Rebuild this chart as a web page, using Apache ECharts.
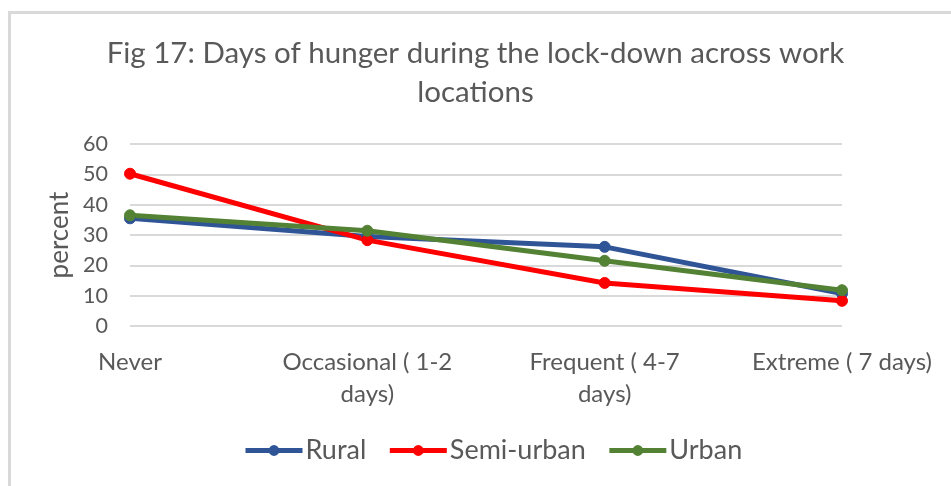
<!DOCTYPE html>
<html>
<head>
<meta charset="utf-8">
<script src="https://cdn.jsdelivr.net/npm/echarts@6/dist/echarts.min.js"></script>
<style>
html,body{margin:0;padding:0;background:#fff;}
#chart{width:951px;height:486px;}
</style>
</head>
<body>
<div id="chart"></div>
<script>
var titleText = 'Fig 17: Days of hunger during the lock-down across work\nlocations';
var categories = ['Never', 'Occasional ( 1-2\ndays)', 'Frequent ( 4-7\ndays)', 'Extreme ( 7 days)'];
var rural = [35.5, 29.5, 26.1, 10.7];
var semiUrban = [50.2, 28.3, 14.2, 8.3];
var urban = [36.5, 31.4, 21.5, 11.8];
var yTicks = [0, 10, 20, 30, 40, 50, 60];

var FONT = 'Lato';
var TXT = '#595959';
function mk(name, data, color) {
  return {
    name: name, type: 'line', data: data,
    symbol: 'circle', symbolSize: 11,
    lineStyle: {width: 5, color: color},
    itemStyle: {color: color, borderColor: color, borderWidth: 1},
    emphasis: {disabled: true},
    z: 3
  };
}
var chart = echarts.init(document.getElementById('chart'));
chart.setOption({
  animation: false,
  backgroundColor: '#fff',
  textStyle: {fontFamily: FONT},
  graphic: [{
    type: 'rect', silent: true, z: -1,
    shape: {x: 9.5, y: 12.5, width: 1200, height: 1200},
    style: {fill: 'none', stroke: '#d9d9d9', lineWidth: 3}
  }],
  title: {
    text: titleText, left: 'center', top: 29,
    textStyle: {fontFamily: FONT, fontWeight: 'normal', fontSize: 29.5, color: TXT, lineHeight: 39}
  },
  legend: {
    data: ['Rural', 'Semi-urban', 'Urban'],
    bottom: 17, left: 238,
    itemWidth: 57, itemHeight: 11, itemGap: 21,
    lineStyle: {width: 5},
    textStyle: {fontFamily: FONT, fontSize: 27, color: TXT, padding: [0, 0, 0, -2]}
  },
  grid: {left: 130, right: 109, top: 144, bottom: 160},
  xAxis: {
    type: 'category', data: categories, boundaryGap: false,
    axisLine: {show: false}, axisTick: {show: false},
    axisLabel: {fontFamily: FONT, fontSize: 24, color: TXT, margin: 20, lineHeight: 32, interval: 0}
  },
  yAxis: {
    type: 'value', min: yTicks[0], max: yTicks[yTicks.length - 1], interval: 10,
    name: 'percent', nameLocation: 'middle', nameGap: 54, nameRotate: 90,
    nameTextStyle: {fontFamily: FONT, fontSize: 26, color: TXT},
    axisLine: {show: false}, axisTick: {show: false},
    axisLabel: {fontFamily: FONT, fontSize: 21.5, color: TXT, margin: 22},
    splitLine: {lineStyle: {color: '#d9d9d9', width: 2}}
  },
  series: [
    mk('Rural', rural, '#2f5597'),
    mk('Semi-urban', semiUrban, '#ff0000'),
    mk('Urban', urban, '#548235')
  ]
});
</script>
</body>
</html>
